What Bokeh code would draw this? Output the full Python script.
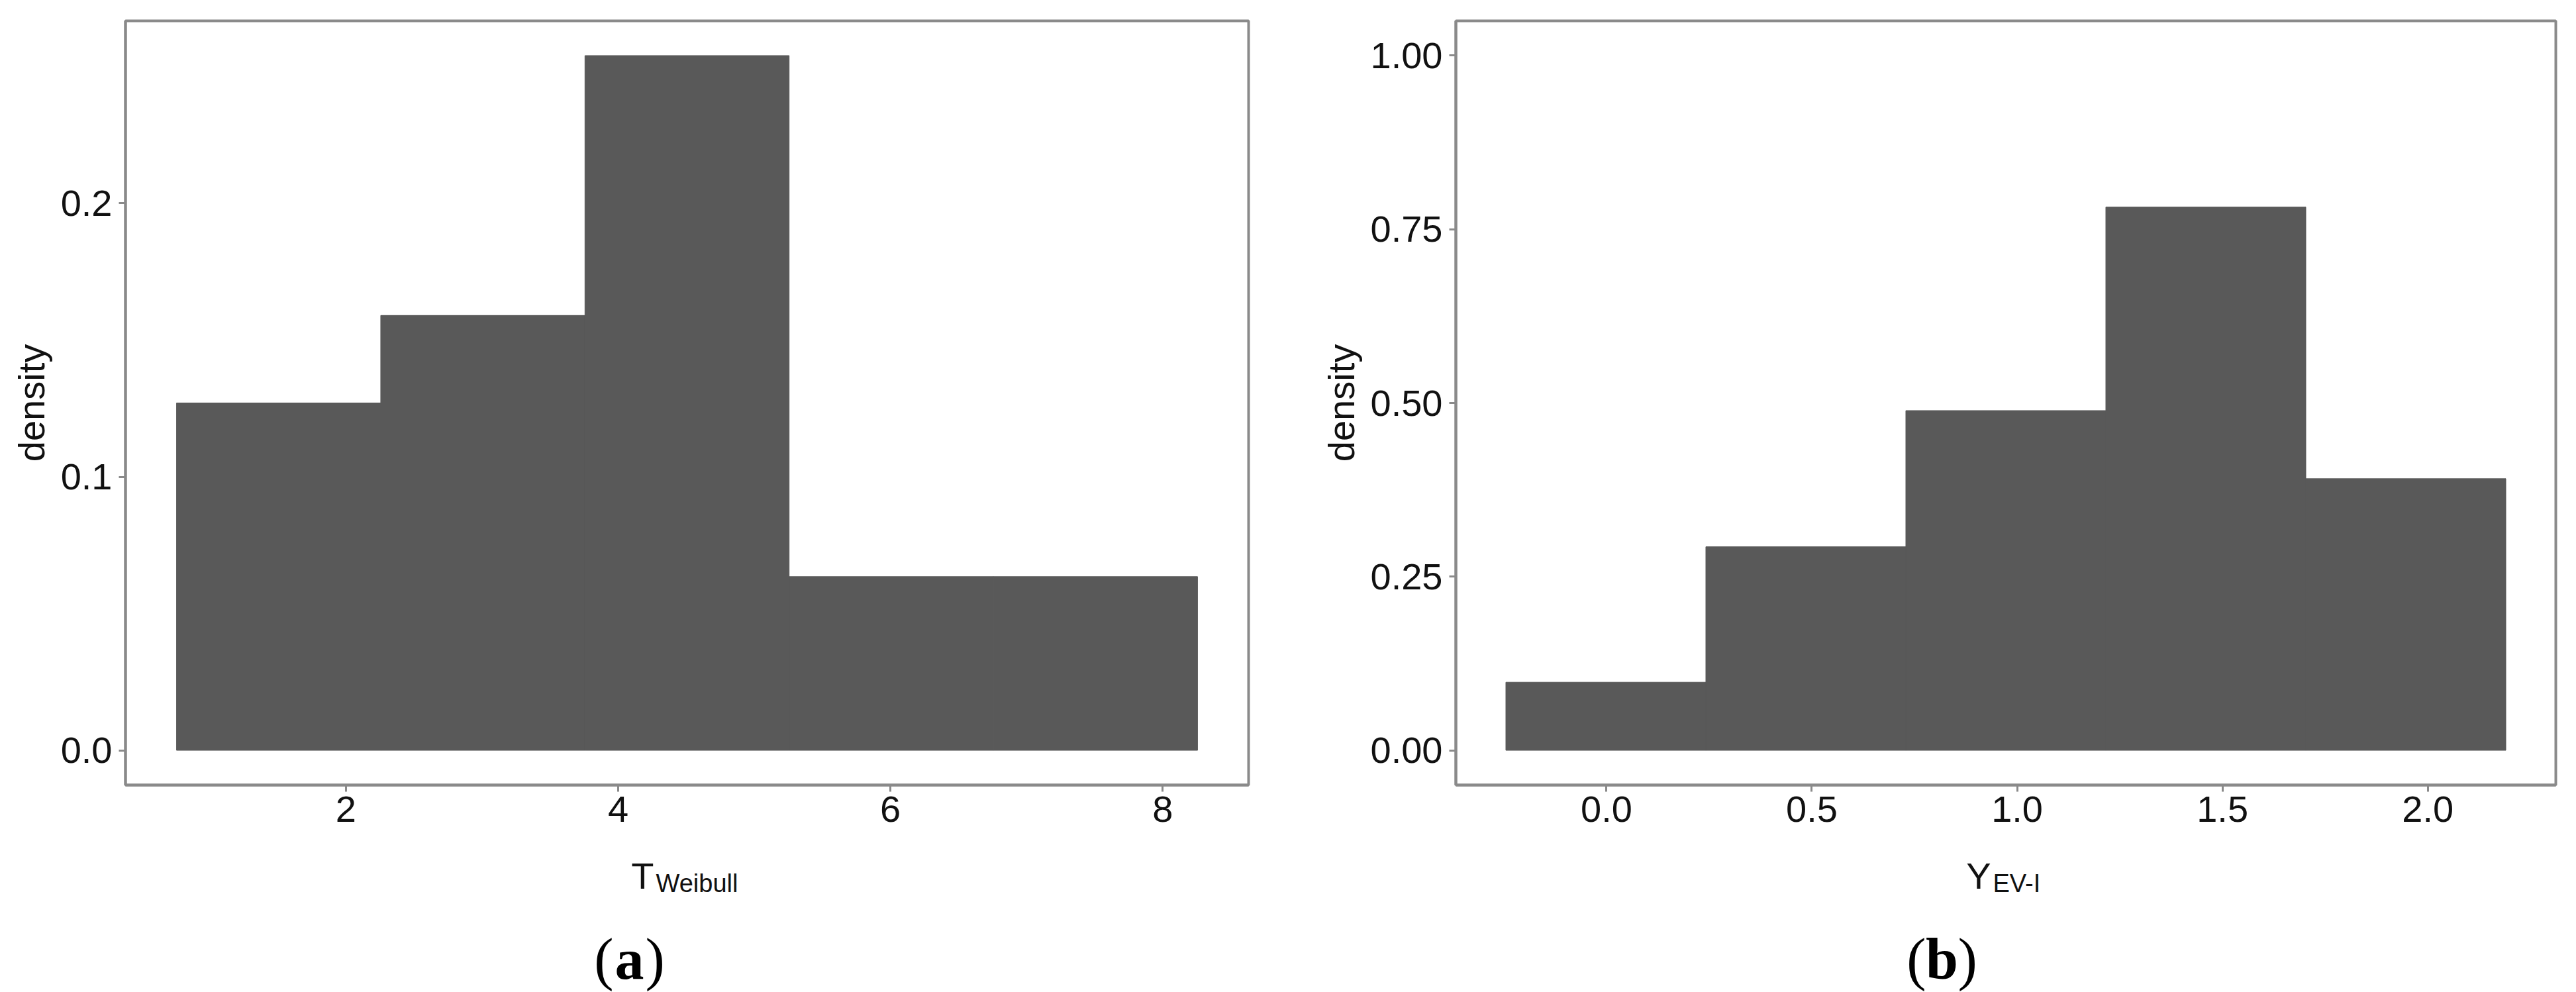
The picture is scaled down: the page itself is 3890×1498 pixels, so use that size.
from bokeh.plotting import figure
from bokeh.models import Range1d, FixedTicker
from bokeh.layouts import row, column
from bokeh.core.properties import value
from bokeh.embed import file_html
from bokeh.resources import INLINE

# ---------------- data ----------------
a_edges = [0.756, 2.256, 3.756, 5.256, 6.756, 8.256]
a_density = [0.127, 0.159, 0.254, 0.0635, 0.0635]
a_xticks = [2, 4, 6, 8]
a_xlabels = ["2", "4", "6", "8"]
a_yticks = [0.0, 0.1, 0.2]
a_ylabels = ["0.0", "0.1", "0.2"]

b_edges = [-0.245, 0.242, 0.729, 1.216, 1.703, 2.190]
b_density = [0.098, 0.293, 0.489, 0.782, 0.391]
b_xticks = [0.0, 0.5, 1.0, 1.5, 2.0]
b_xlabels = ["0.0", "0.5", "1.0", "1.5", "2.0"]
b_yticks = [0.0, 0.25, 0.5, 0.75, 1.0]
b_ylabels = ["0.00", "0.25", "0.50", "0.75", "1.00"]
b_ylimits = [0.0, 1.0]

y_title = "density"
a_xtitle = ["T", "Weibull"]
b_xtitle = ["Y", "EV-I"]
captions = ["a", "b"]

BAR = "#595959"
AXC = "#8a8a8a"
TXT = "#111111"
SANS = "Liberation Sans"
SERIF = "Liberation Serif"
TICK_FS = "56px"

W, H = 3890, 1498
TOP, FRAME_H, BOTTOM = 31, 1154, 80
MAIN_H = TOP + FRAME_H + BOTTOM


def expand(lo, hi, f=0.05):
    d = (hi - lo) * f
    return lo - d, hi + d


def panel(edges, dens, xt, xl, yt, yl, ylo, yhi, width, frame_w, mb_left, mb_right):
    x0, x1 = expand(edges[0], edges[-1])
    y0, y1 = expand(ylo, yhi)
    p = figure(width=width, height=MAIN_H,
               x_range=Range1d(x0, x1), y_range=Range1d(y0, y1),
               output_backend="svg", toolbar_location=None,
               min_border_left=mb_left, min_border_right=mb_right,
               min_border_top=TOP, min_border_bottom=BOTTOM)
    p.quad(left=edges[:-1], right=edges[1:], bottom=[0] * len(dens), top=dens,
           fill_color=BAR, line_color=BAR, line_width=1)
    p.grid.visible = False
    p.background_fill_color = "white"
    p.border_fill_color = "white"
    p.outline_line_color = AXC
    p.outline_line_width = 4
    for ax, ticks, labels in ((p.xaxis[0], xt, xl), (p.yaxis[0], yt, yl)):
        ax.ticker = FixedTicker(ticks=ticks)
        ax.major_label_overrides = {t: s for t, s in zip(ticks, labels)}
        ax.axis_line_color = AXC
        ax.axis_line_width = 4
        ax.major_tick_line_color = AXC
        ax.major_tick_line_width = 3
        ax.major_tick_out = 10
        ax.major_tick_in = 0
        ax.minor_tick_line_color = None
        ax.major_label_text_font = SANS
        ax.major_label_text_font_size = TICK_FS
        ax.major_label_text_color = TXT
        ax.major_label_standoff = 10
    p.xaxis.major_label_standoff = 7
    p.yaxis.axis_label = y_title
    p.yaxis.axis_label_text_font = SANS
    p.yaxis.axis_label_text_font_size = "56px"
    p.yaxis.axis_label_text_font_style = "normal"
    p.yaxis.axis_label_text_color = TXT
    p.yaxis.axis_label_standoff = 10
    return p


pa = panel(a_edges, a_density, a_xticks, a_xlabels, a_yticks, a_ylabels,
           0.0, max(a_density), 1948, 1696, 189, 63)
pb = panel(b_edges, b_density, b_xticks, b_xlabels, b_yticks, b_ylabels,
           b_ylimits[0], b_ylimits[1], 1942, 1661, 250, 31)

# ---------- strip below the panels: x-axis titles and captions ----------
CAP_H = H - MAIN_H
cap = figure(width=W, height=CAP_H, x_range=Range1d(0, W), y_range=Range1d(H, MAIN_H),
             output_backend="svg", toolbar_location=None,
             min_border_left=0, min_border_right=0, min_border_top=0, min_border_bottom=0)
cap.axis.visible = False
cap.grid.visible = False
cap.outline_line_color = None

# axis titles: main letter right-aligned at a split point, subscript left-aligned
split = [987, 3006]
mains = [a_xtitle[0], b_xtitle[0]]
subs = [a_xtitle[1], b_xtitle[1]]
cap.text(x=split, y=[1322, 1322], text=mains, text_font=value(SANS), text_font_size="56px",
         text_color=TXT, text_align="right", text_baseline="alphabetic")
cap.text(x=[s + 3 for s in split], y=[1333, 1333], text=subs, text_font=value(SANS),
         text_font_size="38px", text_color=TXT, text_align="left", text_baseline="alphabetic")

# captions (a) / (b)
cx = [950, 2932]
half = 24
cy = [1448, 1448]
cap.text(x=cx, y=cy, text=captions, text_font=value(SERIF), text_font_size="88px",
         text_font_style="bold", text_color="black", text_align="center",
         text_baseline="alphabetic")
cap.text(x=[c - half for c in cx], y=cy, text=["(", "("], text_font=value(SERIF),
         text_font_size="88px", text_color="black", text_align="right",
         text_baseline="alphabetic")
cap.text(x=[c + half for c in cx], y=cy, text=[")", ")"], text_font=value(SERIF),
         text_font_size="88px", text_color="black", text_align="left",
         text_baseline="alphabetic")

layout = column(row(pa, pb), cap)
open("out.html", "w").write(file_html(layout, INLINE))
